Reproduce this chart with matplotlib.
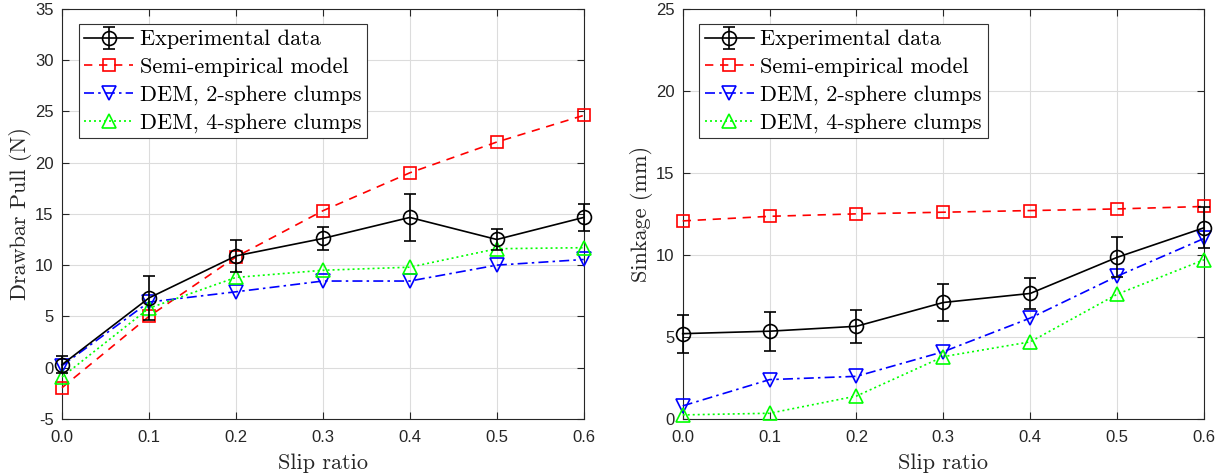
import matplotlib
matplotlib.use("Agg")
import matplotlib.pyplot as plt

# Slip ratios shared by both panels
slip = [0.0, 0.1, 0.2, 0.3, 0.4, 0.5, 0.6]
slip_labels = ["0.0", "0.1", "0.2", "0.3", "0.4", "0.5", "0.6"]

# Drawbar pull (N)
pull_exp = [0.3, 6.8, 10.9, 12.6, 14.65, 12.5, 14.65]
pull_exp_err = [0.8, 2.1, 1.55, 1.1, 2.3, 1.05, 1.3]
pull_semi = [-1.95, 5.0, 10.8, 15.3, 19.0, 22.0, 24.6]
pull_dem2 = [0.2, 6.4, 7.4, 8.45, 8.45, 10.0, 10.55]
pull_dem4 = [-0.9, 5.8, 8.8, 9.5, 9.8, 11.6, 11.7]
pull_ticks = [-5, 0, 5, 10, 15, 20, 25, 30, 35]

# Sinkage (mm)
sink_exp = [5.2, 5.35, 5.65, 7.1, 7.65, 9.85, 11.65]
sink_exp_err = [1.15, 1.2, 1.0, 1.15, 0.97, 1.22, 1.25]
sink_semi = [12.07, 12.35, 12.5, 12.6, 12.7, 12.8, 12.95]
sink_dem2 = [0.8, 2.4, 2.6, 4.1, 6.15, 8.7, 11.0]
sink_dem4 = [0.25, 0.35, 1.4, 3.8, 4.7, 7.6, 9.7]
sink_ticks = [0, 5, 10, 15, 20, 25]

legend_labels = ["Experimental data", "Semi-empirical model",
                 "DEM, 2-sphere clumps", "DEM, 4-sphere clumps"]

serif = "cmr10"
tick_font = "Liberation Sans"
axis_col = "#262626"

fig = plt.figure(figsize=(12.31, 4.76), dpi=100)
ax1 = fig.add_axes([62 / 1231, 57 / 476, 521.7 / 1231, 410.3 / 476])
ax2 = fig.add_axes([682.7 / 1231, 57 / 476, 521.3 / 1231, 410.3 / 476])


def draw_panel(ax, exp, err, semi, dem2, dem4, yticks, ylabel):
    lw = 1.2
    h_exp = ax.errorbar(slip, exp, yerr=err, color="k", lw=lw, marker="o",
                        ms=10, mfc="none", mec="k", mew=lw, capsize=4.5,
                        capthick=lw, elinewidth=lw, zorder=5)
    for art in h_exp.lines[0:1] + tuple(h_exp.lines[1]) + tuple(h_exp.lines[2]):
        art.set_clip_on(False)
    h_semi, = ax.plot(slip, semi, color="r", ls=(0, (5, 4)), lw=lw,
                      marker="s", ms=8, mfc="none", mew=lw, zorder=4,
                      clip_on=False)
    h_dem2, = ax.plot(slip, dem2, color="b", ls=(0, (6, 2.5, 1.5, 2.5)),
                      lw=lw, marker="v", ms=10, mfc="none", mew=lw, zorder=4,
                      clip_on=False)
    h_dem4, = ax.plot(slip, dem4, color="#00ff00", ls=(0, (1.2, 1.8)),
                      lw=lw, marker="^", ms=10, mfc="none", mew=lw, zorder=4,
                      clip_on=False)

    ax.set_xlim(0, 0.6)
    ax.set_ylim(yticks[0], yticks[-1])
    ax.set_xticks(slip)
    ax.set_xticklabels(slip_labels, fontfamily=tick_font, fontsize=12)
    ax.set_yticks(yticks)
    ax.set_yticklabels([str(t) for t in yticks], fontfamily=tick_font,
                       fontsize=12)
    ax.tick_params(direction="in", length=5, width=0.8, colors=axis_col,
                   top=True, right=True)
    ax.tick_params(axis="x", pad=8)
    ax.tick_params(axis="y", pad=6)
    ax.grid(True, color="#dcdcdc", lw=0.8)
    ax.set_axisbelow(True)
    for sp in ax.spines.values():
        sp.set_color(axis_col)
        sp.set_linewidth(0.8)

    ax.set_xlabel("Slip ratio", fontfamily=serif, fontsize=16,
                  color=axis_col, labelpad=6)
    ax.set_ylabel(ylabel, fontfamily=serif, fontsize=16, color=axis_col,
                  labelpad=2)

    leg = ax.legend([h_exp, h_semi, h_dem2, h_dem4], legend_labels,
                    loc="upper left", bbox_to_anchor=(0.032, 0.962),
                    prop={"family": serif, "size": 16}, fancybox=False,
                    framealpha=1, edgecolor="#333333", handlelength=2.2,
                    borderpad=0.25, labelspacing=0.36, handletextpad=0.3,
                    borderaxespad=0.0)
    leg.get_frame().set_linewidth(0.8)


draw_panel(ax1, pull_exp, pull_exp_err, pull_semi, pull_dem2, pull_dem4,
           pull_ticks, "Drawbar Pull (N)")
draw_panel(ax2, sink_exp, sink_exp_err, sink_semi, sink_dem2, sink_dem4,
           sink_ticks, "Sinkage (mm)")

fig.savefig("out.png", dpi=100)
